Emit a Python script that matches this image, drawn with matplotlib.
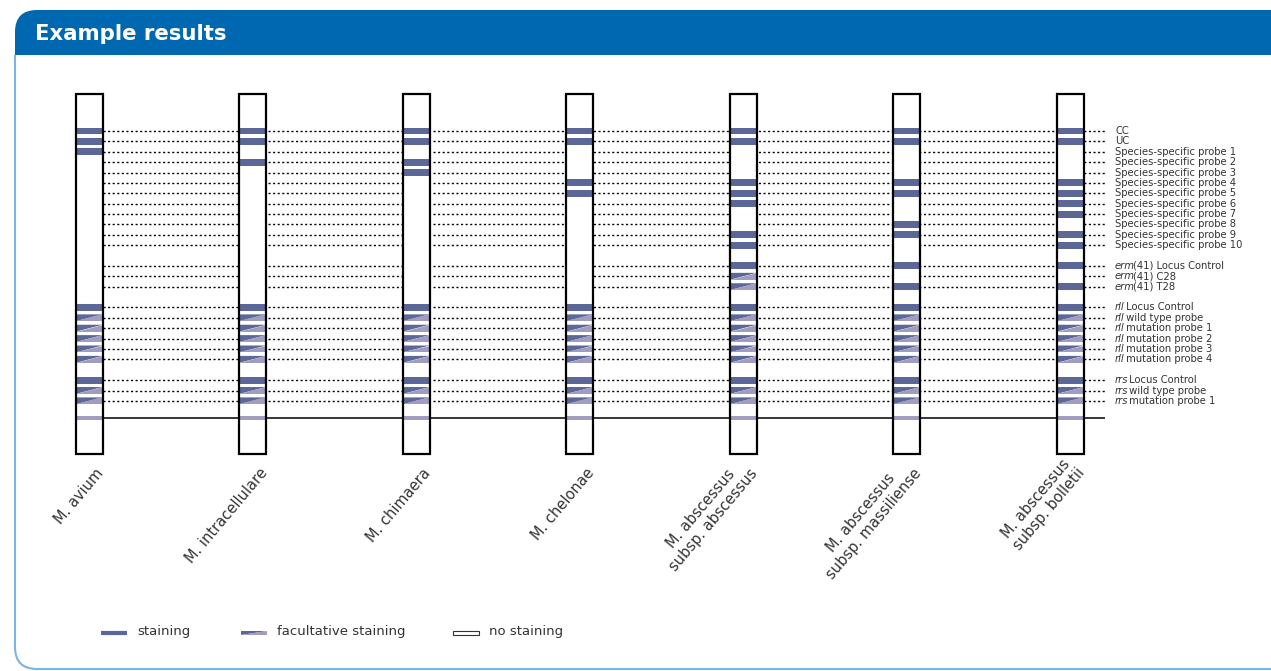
"""
Example results: probe staining patterns for several mycobacteria
"""

import matplotlib
matplotlib.use("Agg")
import matplotlib.pyplot as plt
from matplotlib.patches import Rectangle, FancyBboxPatch, Polygon

# species shown as strips, left to right
species = [
    "M. avium",
    "M. intracellulare",
    "M. chimaera",
    "M. chelonae",
    "M. abscessus\nsubsp. abscessus",
    "M. abscessus\nsubsp. massiliense",
    "M. abscessus\nsubsp. bolletii",
]

# probe names as (italic gene part, rest), in groups with a gap between groups
control_probes = [("", "CC"), ("", "UC")] + [("", f"Species-specific probe {i}") for i in range(1, 11)]
erm_probes = [("erm", "(41) Locus Control"), ("erm", "(41) C28"), ("erm", "(41) T28")]
rll_probes = [("rll", " Locus Control"), ("rll", " wild type probe"),
              ("rll", " mutation probe 1"), ("rll", " mutation probe 2"),
              ("rll", " mutation probe 3"), ("rll", " mutation probe 4")]
rrs_probes = [("rrs", " Locus Control"), ("rrs", " wild type probe"),
              ("rrs", " mutation probe 1")]
probe_groups = [control_probes, erm_probes, rll_probes, rrs_probes]

# S = staining, F = facultative staining, . = no staining (groups split by |)
patterns = [
    "SSS.........|...|SFFFFF|SFF",
    "SS.S........|...|SFFFFF|SFF",
    "SS.SS.......|...|SFFFFF|SFF",
    "SS...SS.....|...|SFFFFF|SFF",
    "SS...SSS..SS|SFF|SFFFFF|SFF",
    "SS...SS..SS.|S.S|SFFFFF|SFF",
    "SS...SSSS.SS|S.S|SFFFFF|SFF",
]

legend_labels = ["staining", "facultative staining", "no staining"]

DARK = "#5b6796"
LIGHT = "#a19dc1"
TEXT = "#333333"

# row positions with one empty row between groups
row_pos, row_labels = [], []
y = 0
for group in probe_groups:
    for lab in group:
        row_pos.append(y)
        row_labels.append(lab)
        y += 1
    y += 1
baseline = row_pos[-1] + 1.64
strip_top, strip_bottom = -3.56, 31.1

fig = plt.figure(figsize=(12.71, 6.71), dpi=100)

# background: panel, header and legend in pixel coordinates
bg = fig.add_axes([0, 0, 1, 1])
bg.set_xlim(0, 1271)
bg.set_ylim(671, 0)
bg.axis("off")
box = dict(boxstyle="round,pad=0,rounding_size=22")
bg.add_patch(FancyBboxPatch((15, 10), 1400, 659, fc="white", ec="none", **box))
bg.add_patch(FancyBboxPatch((15, 10), 1400, 80, fc="#0068b1", ec="none", **box))
bg.add_patch(Rectangle((0, 55), 1400, 45, fc="white", ec="none"))
outline = FancyBboxPatch((15, 10), 1400, 659, fill=False, ec="#7db3de", lw=1.5, **box)
bg.add_patch(outline)
outline.set_clip_path(Rectangle((0, 55), 1400, 700, transform=bg.transData))
bg.text(35, 34, "Example results", color="white", fontsize=15.3, fontweight="bold",
        va="center", ha="left")

# legend
bg.plot([101, 127], [633, 633], color=DARK, lw=3, solid_capstyle="butt")
bg.add_patch(Polygon([(241, 631), (241, 635), (267, 631)], closed=True, fc=DARK, ec="none"))
bg.add_patch(Polygon([(241, 635), (267, 635), (267, 631)], closed=True, fc=LIGHT, ec="none"))
bg.add_patch(Rectangle((453, 630.8), 26, 4.2, fc="white", ec=TEXT, lw=0.8))
for xt, lab in zip([137, 277, 489], legend_labels):
    bg.text(xt, 632, lab, fontsize=9.5, color=TEXT, va="center", ha="left")

# main strip axes: x = strip index, y = probe row
px_x, px_y = 163.5, 10.38
ax = fig.add_axes([0, 0, 1, 1])
ax.patch.set_alpha(0)
ax.set_xlim(-89 / px_x, (1271 - 89) / px_x)
ax.set_ylim((671 - 131) / px_y, -131 / px_y)
ax.axis("off")

w = 27 / px_x
bh = 0.67
x_end = (1105 - 89) / px_x
x_lab = (1115 - 89) / px_x

ax.hlines(row_pos, w / 2, x_end, colors="black", linestyles=(0, (1.5, 1.8)), lw=1.0, zorder=1)
ax.hlines(baseline, w / 2, x_end, colors="black", lw=1.1, zorder=1)

for i, (name, pat) in enumerate(zip(species, patterns)):
    left = i - w / 2
    ax.add_patch(Rectangle((left, strip_top), w, strip_bottom - strip_top,
                           fc="white", ec="none", zorder=2))
    codes = pat.replace("|", "")
    stain_rows = [r for r, c in zip(row_pos, codes) if c == "S"]
    ax.barh(stain_rows, w, left=left, height=bh, color=DARK, zorder=3)
    for r, c in zip(row_pos, codes):
        if c == "F":
            t, b = r - bh / 2, r + bh / 2
            ax.add_patch(Polygon([(left, t), (left, b), (left + w, t)], closed=True,
                                 fc=DARK, ec="none", zorder=3))
            ax.add_patch(Polygon([(left, b), (left + w, b), (left + w, t)], closed=True,
                                 fc=LIGHT, ec="none", zorder=3))
    ax.barh(baseline, w, left=left, height=0.32, color=LIGHT, zorder=3)
    ax.add_patch(Rectangle((left, strip_top), w, strip_bottom - strip_top,
                           fill=False, ec="black", lw=1.6, zorder=5))
    ax.text(i + 0.11, strip_bottom + 2.06, name, rotation=50, rotation_mode="anchor",
            ha="right", va="bottom", multialignment="center", fontsize=10.5, color=TEXT)

# probe labels: italic gene name followed by regular text
for r, (gene, rest) in zip(row_pos, row_labels):
    if gene:
        t = ax.text(x_lab, r, gene, fontsize=7.2, color=TEXT, va="center", ha="left",
                    fontstyle="italic")
        ax.annotate(rest, xy=(1, 0.5), xycoords=t, xytext=(-1.5, 0),
                    textcoords="offset points", fontsize=7.2, color=TEXT,
                    va="center", ha="left")
    else:
        ax.text(x_lab, r, rest, fontsize=7.2, color=TEXT, va="center", ha="left")

plt.savefig("out.png", dpi=100)
plt.close()
